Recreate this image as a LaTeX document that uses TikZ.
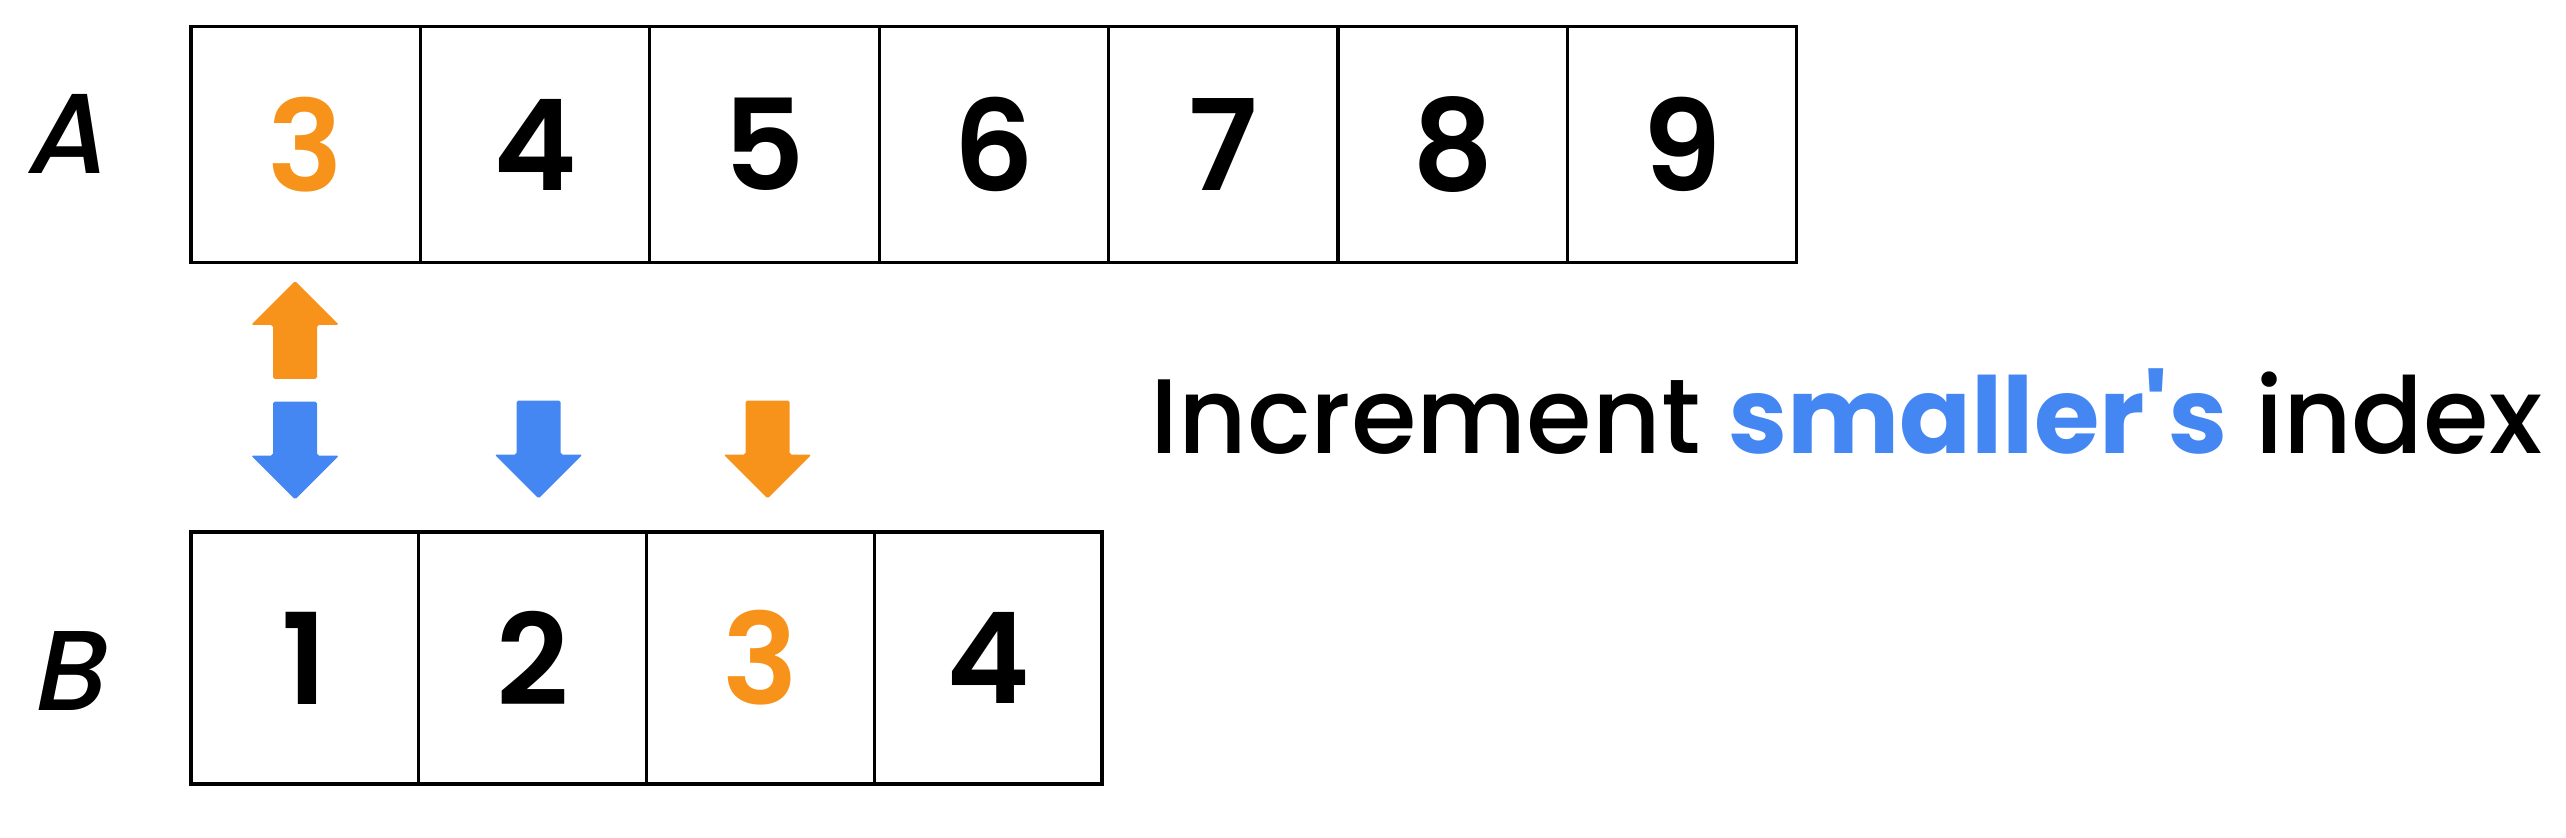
\documentclass[tikz,border=0pt]{standalone}
\usepackage{fontspec}
\setmainfont{Poppins}
\newfontfamily\medfont{Poppins Medium}
\newfontfamily\semifont{Poppins SemiBold}
\newfontfamily\boldfont{Poppins Bold}
\newfontfamily\labfont[FakeSlant=0.2]{Poppins Medium}
\definecolor{korange}{HTML}{F7931A}
\definecolor{kblue}{HTML}{4487F3}
\tikzset{
  cellA/.style={draw=black, line width=2.8pt, minimum width=68.82mm, minimum height=70.95mm, inner sep=0pt},
  cellB/.style={draw=black, line width=2.8pt, minimum width=68.32mm, minimum height=75.6mm, inner sep=0pt},
  digit/.style={font=\fontsize{108pt}{110pt}\semifont},
  arrlabel/.style={font=\fontsize{97pt}{100pt}\labfont, anchor=base, inner sep=0pt},
  uparr/.pic={\fill[rounded corners=1.5pt] (0,-49) -- (44,-5) -- (22,-5) -- (22,49) -- (-22,49) -- (-22,-5) -- (-44,-5) -- cycle;},
  dnarr/.pic={\fill[rounded corners=1.5pt] (0,49) -- (44,5) -- (22,5) -- (22,-49) -- (-22,-49) -- (-22,5) -- (-44,5) -- cycle;}
}
\begin{document}
\begin{tikzpicture}[x=0.3mm, y=-0.3mm]
\useasboundingbox (0,0) rectangle (2566,838);
% array A
\foreach \v [count=\i from 0] in {3,4,5,6,7,8,9} {
  \node[cellA] (a\i) at ({191+229.4*(\i+0.5)},144.5) {};
}
\node[digit, text=korange] (ta0) at (a0) {3};
\foreach \v [count=\i from 1] in {4,5,6,7,8,9} {
  \node[digit] (ta\i) at (a\i) {\v};
}
% array B
\foreach \v [count=\i from 0] in {1,2,3,4} {
  \node[cellB] (b\i) at ({191+227.75*(\i+0.5)},658) {};
}
\node[digit] (tb0) at (b0) {1};
\node[digit] (tb1) at (b1) {2};
\node[digit, text=korange] (tb2) at (b2) {3};
\node[digit] (tb3) at (b3) {4};
% labels
\node[arrlabel] (la) at (64,174) {A};
\node[arrlabel] (lb) at (66,710) {B};
% arrows
\pic[korange] at (295,330) {uparr};
\pic[kblue] at (295,450.5) {dnarr};
\pic[kblue] at (538.5,449.5) {dnarr};
\pic[korange] at (767.5,449.5) {dnarr};
% caption
\node[anchor=base west, inner sep=0pt, font=\fontsize{90.5pt}{92pt}\medfont] (cap) at (1150,453)
  {Increment {\color{kblue}\boldfont smaller's} index};
\end{tikzpicture}
\end{document}
